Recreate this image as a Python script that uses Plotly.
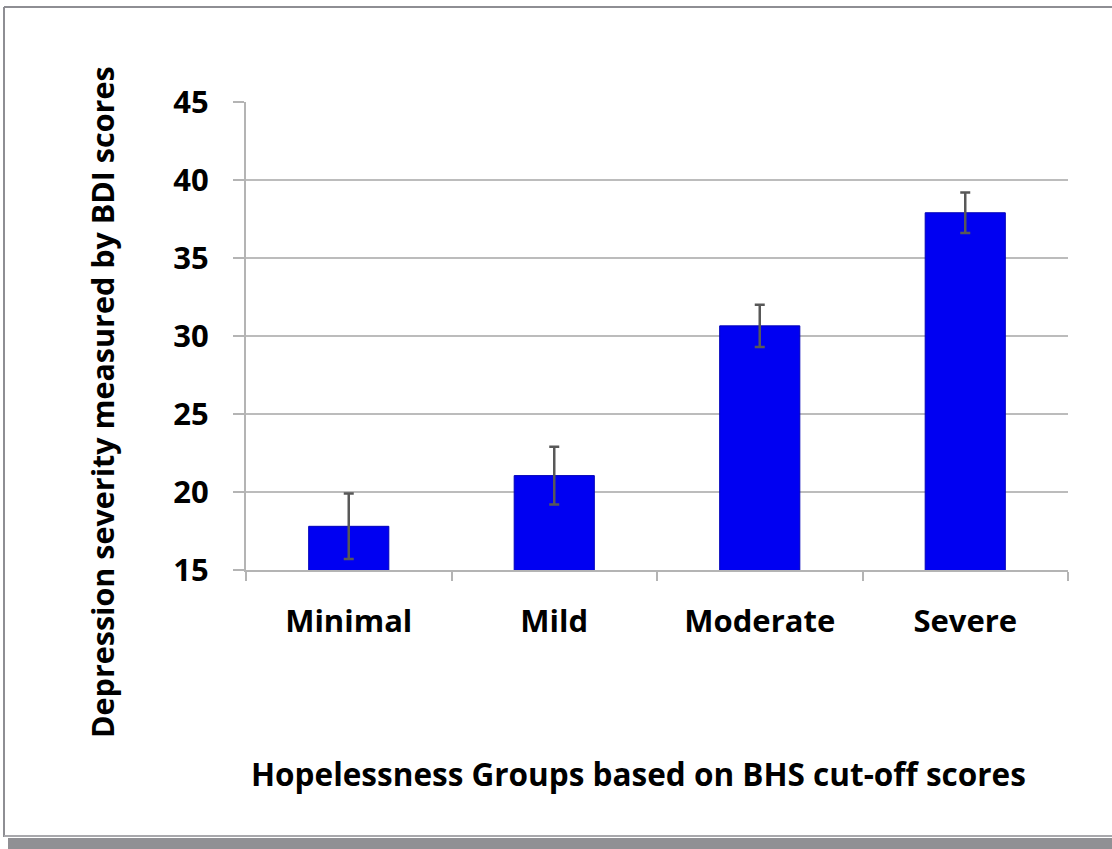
import plotly.graph_objects as go

categories = ["Minimal", "Mild", "Moderate", "Severe"]
means = [17.8, 21.05, 30.65, 37.9]
errors = [2.1, 1.85, 1.35, 1.3]
y_ticks = [15, 20, 25, 30, 35, 40, 45]

W, H = 1112, 849
L, R, T, B = 246, 1068, 102, 570

def px(x):
    return (x - L) / (R - L)

def py(y):
    return (B - y) / (B - T)

FONT = "Open Sans"
fig = go.Figure()
fig.add_trace(go.Bar(
    x=categories, y=means,
    width=0.39,
    marker=dict(color="#0000f2", line=dict(color="#0000b8", width=1)),
    error_y=dict(type="data", array=errors, visible=True,
                 color="#585858", thickness=2.5, width=5),
))

fig.update_layout(
    width=W, height=H,
    margin=dict(l=L, r=W - R, t=T, b=H - B),
    paper_bgcolor="white", plot_bgcolor="white",
    showlegend=False,
    font=dict(family=FONT, color="black"),
    xaxis=dict(
        type="category",
        showgrid=False,
        showline=True, linecolor="#b4b4b4", linewidth=2,
        ticks="outside", tickson="boundaries", ticklen=9, tickcolor="#b4b4b4", tickwidth=2,
        tickfont=dict(family=FONT, size=31, color="black", weight="bold"),
        ticklabelstandoff=23,
    ),
    yaxis=dict(
        range=[15, 45],
        tickvals=y_ticks,
        showgrid=True, gridcolor="#bcbcbc", gridwidth=2,
        showline=True, linecolor="#b4b4b4", linewidth=2,
        ticks="outside", ticklen=11, tickcolor="#b4b4b4", tickwidth=2,
        tickfont=dict(family=FONT, size=31, color="black", weight="bold"),
        ticklabelstandoff=18,
        zeroline=False,
    ),
    annotations=[
        dict(text="Depression severity measured by BDI scores", xref="paper", yref="paper",
             x=px(102), y=py(402), textangle=-90, showarrow=False,
             xanchor="center", yanchor="middle",
             font=dict(family=FONT, size=30.5, color="black", weight="bold")),
        dict(text="Hopelessness Groups based on BHS cut-off scores", xref="paper", yref="paper",
             x=px(638), y=py(773), showarrow=False,
             xanchor="center", yanchor="middle",
             font=dict(family=FONT, size=31.5, color="black", weight="bold")),
    ],
    shapes=[
        dict(type="rect", xref="paper", yref="paper",
             x0=px(8), x1=px(1115), y0=py(849), y1=py(838),
             fillcolor="#909094", line=dict(width=0), layer="below"),
        dict(type="line", xref="paper", yref="paper",
             x0=px(4), x1=px(1115), y0=py(7), y1=py(7),
             line=dict(color="#8e8e93", width=2)),
        dict(type="line", xref="paper", yref="paper",
             x0=px(4), x1=px(4), y0=py(7), y1=py(837),
             line=dict(color="#8e8e93", width=2)),
        dict(type="line", xref="paper", yref="paper",
             x0=px(4), x1=px(1115), y0=py(836), y1=py(836),
             line=dict(color="#a8a8ac", width=2)),
    ],
)

fig.write_html("out.html")
